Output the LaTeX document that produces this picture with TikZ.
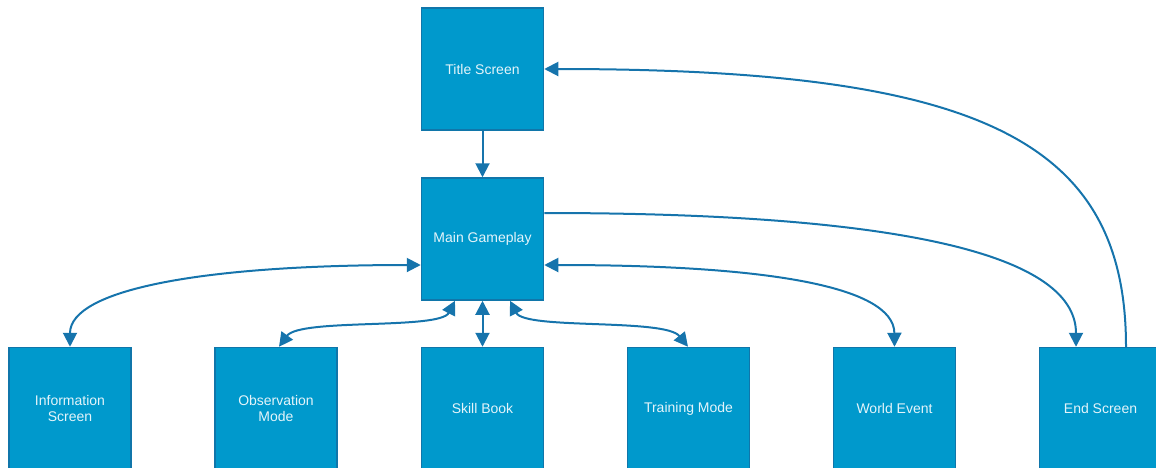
\documentclass[tikz,border=0pt]{standalone}
\usepackage{fontspec}
\setmainfont{Liberation Sans}
\usetikzlibrary{arrows.meta}
\definecolor{boxfill}{RGB}{0,153,204}
\definecolor{boxline}{RGB}{16,118,170}
\definecolor{edgecol}{RGB}{22,116,172}
\definecolor{txt}{RGB}{228,244,250}
\begin{document}
\begin{tikzpicture}[x=1pt,y=-1pt,
  screen/.style={draw=boxline,fill=boxfill,line width=1.5pt,minimum width=122pt,minimum height=122pt,
    inner sep=0pt,text=txt,font=\fontsize{14}{16.5}\selectfont,align=center},
  conn/.style={draw=edgecol,line width=2pt,-{Triangle[length=14pt,width=14pt]}},
  bconn/.style={draw=edgecol,line width=2pt,{Triangle[length=14pt,width=14pt]}-{Triangle[length=14pt,width=14pt]}}]
\useasboundingbox (0,0) rectangle (1156,467);
\node[screen] (title) at (482.5,69) {Title Screen};
\node[screen] (main) at (482.5,239) {Main Gameplay};
\node[screen] (info) at (70,408.5) {Information\\Screen};
\node[screen] (obs) at (276,408.5) {Observation\\Mode};
\node[screen] (skill) at (482.5,408.5) {Skill Book};
\node[screen] (train) at (688.5,408.5) {Training Mode};
\node[screen] (world) at (894.5,408.5) {World Event};
\node[screen] (endS) at (1100.5,408.5) {End Screen};

\draw[conn] (title.south) -- (main.north);
% Main -> End
\draw[conn] (main.east |- 0,213) .. controls (880,213) and (1076,250) .. (endS.north -| 1076,0);
% End -> Title
\draw[conn] (endS.north -| 1126,0) .. controls (1126,140) and (980,69) .. (title.east |- 0,69);
% World <-> Main
\draw[bconn] (main.east |- 0,265) .. controls (760,265) and (894,285) .. (world.north);
% Info <-> Main
\draw[bconn] (info.north) .. controls (70,290) and (200,265) .. (main.west |- 0,265);
% Obs <-> Main
\draw[bconn] (obs.north -| 279,0) .. controls (300,318) and (440,330) .. (main.south -| 455,0);
% Skill <-> Main
\draw[bconn] (skill.north) -- (main.south);
% Training <-> Main
\draw[bconn] (main.south -| 510,0) .. controls (525,330) and (665,318) .. (train.north -| 688,0);
\end{tikzpicture}
\end{document}
